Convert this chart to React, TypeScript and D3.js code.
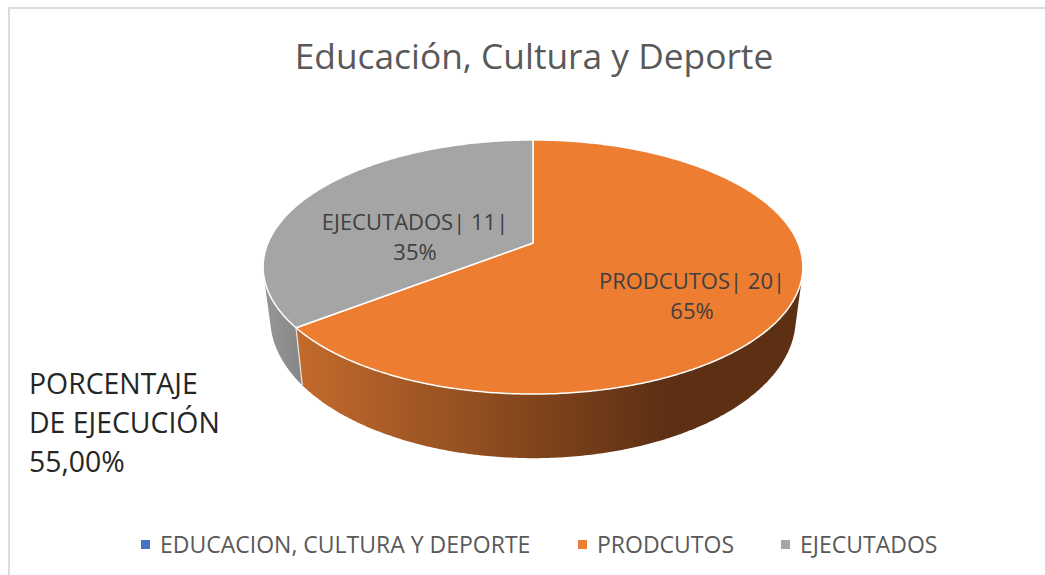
import React from "react";
import * as d3 from "d3";

const categories = ["EDUCACION, CULTURA Y DEPORTE", "PRODCUTOS", "EJECUTADOS"];
const values = [0, 20, 11];
const colors = ["#4472c4", "#ed7d31", "#a5a5a5"];
const title = "Educación, Cultura y Deporte";
const noteLines = ["PORCENTAJE", "DE EJECUCIÓN", "55,00%"];

const W = 1045;
const H = 575;
const FONT = "'Open Sans', 'Noto Sans', sans-serif";

// perspective of the tilted disc: top face and bottom face
const cx = 533;
const tilt = 0.189;
const topFace = { cy: 243, a: 265, b: 122.5 };
const bottomFace = { cy: 292, a: 258, b: 134.75 };

type Face = { cy: number; a: number; b: number };

const project = (face: Face, angle: number): [number, number] => {
  const u = Math.sin(angle);
  const v = -Math.cos(angle);
  const w = 1 - tilt * v;
  return [cx + (face.a * u) / w, face.cy + (face.b * v) / w];
};

const arcPoints = (face: Face, start: number, end: number) => {
  const n = Math.max(2, Math.ceil((end - start) / 0.01));
  return d3.range(n + 1).map((i) => project(face, start + ((end - start) * i) / n));
};

const line = d3.line();

const pie = d3
  .pie<number>()
  .sort(null)
  .startAngle(0)
  .endAngle(2 * Math.PI);

const slices = pie(values);
const total = d3.sum(values);

// data labels sit near the slice, offsets picked to match the reference
const labelPos: Record<number, { x: number; y: number }> = {
  1: { x: 692, y: 289 },
  2: { x: 415, y: 230 },
};

const legendX = [141, 578, 781];

const App = () => {
  const visible = slices.filter((s) => s.value > 0);
  const sides = [...visible].reverse();

  return (
    <svg
      width={W}
      height={H}
      viewBox={`0 0 ${W} ${H}`}
      style={{ position: "absolute", left: 0, top: 0, display: "block", background: "#fff" }}
      fontFamily={FONT}
    >
      <defs>
        <linearGradient id="orangeSide" gradientUnits="userSpaceOnUse" x1={300} x2={665} y1={0} y2={0}>
          <stop offset="0" stopColor="#c26a2c" />
          <stop offset="1" stopColor="#5d3014" />
        </linearGradient>
        <linearGradient id="graySide" gradientUnits="userSpaceOnUse" x1={262} x2={304} y1={0} y2={0}>
          <stop offset="0" stopColor="#979797" />
          <stop offset="1" stopColor="#868686" />
        </linearGradient>
      </defs>

      <path d={`M9,${H}V8H${W}`} fill="none" stroke="#dcdcdc" strokeWidth={2} />

      <text x={534} y={69} textAnchor="middle" fontSize={35.3} fill="#595959">
        {title}
      </text>

      {/* side wall = hull of both rims, gives the straight silhouette at the far left and right */}
      {sides.map((s) => {
        const top = arcPoints(topFace, s.startAngle, s.endAngle);
        const bottom = arcPoints(bottomFace, s.startAngle, s.endAngle);
        const hull = d3.polygonHull([...top, ...bottom]) ?? [];
        return (
          <path
            key={`side-${s.index}`}
            d={line(hull) + "Z"}
            fill={s.index === 1 ? "url(#orangeSide)" : "url(#graySide)"}
          />
        );
      })}

      {/* white line between the two side walls */}
      {visible.slice(0, 1).map((s) => {
        const p0 = project(topFace, s.endAngle);
        const p1 = project(bottomFace, s.endAngle);
        return <path key="seam" d={line([p0, p1]) ?? ""} stroke="#e8e8e8" strokeWidth={1.2} fill="none" />;
      })}

      {visible.map((s) => {
        const rim = arcPoints(topFace, s.startAngle, s.endAngle);
        const center: [number, number] = [cx, topFace.cy];
        return (
          <path
            key={`top-${s.index}`}
            d={line([center, ...rim]) + "Z"}
            fill={colors[s.index]}
            stroke="#fff"
            strokeWidth={1.5}
            strokeLinejoin="round"
          />
        );
      })}

      {visible.map((s) => {
        const pos = labelPos[s.index];
        return (
          <text key={`label-${s.index}`} textAnchor="middle" fontSize={22} fill="#404040">
            <tspan x={pos.x} y={pos.y}>
              {`${categories[s.index]}| ${s.value}|`}
            </tspan>
            <tspan x={pos.x} y={pos.y + 30}>
              {`${Math.round((s.value / total) * 100)}%`}
            </tspan>
          </text>
        );
      })}

      {noteLines.map((t, i) => (
        <text key={t} x={29} y={394 + i * 39} fontSize={28.4} fill="#262626">
          {t}
        </text>
      ))}

      {categories.map((c, i) => (
        <g key={c}>
          <rect x={legendX[i]} y={540} width={9} height={9} fill={colors[i]} />
          <text x={legendX[i] + 19} y={553} fontSize={23} fill="#595959">
            {c}
          </text>
        </g>
      ))}
    </svg>
  );
};

export default App;
